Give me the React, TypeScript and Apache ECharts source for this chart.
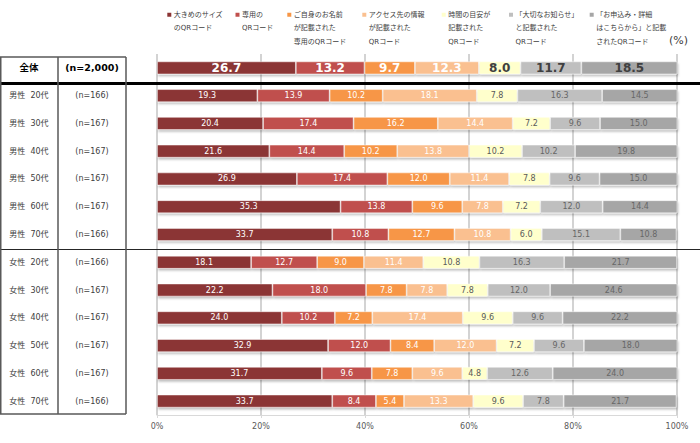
import React, { useEffect, useRef } from 'react';
import * as echarts from 'echarts';

const FONT = "'DejaVu Sans', 'Noto Sans CJK JP', sans-serif";

const categories = [
  '全体',
  '男性  20代', '男性  30代', '男性  40代', '男性  50代', '男性  60代', '男性  70代',
  '女性  20代', '女性  30代', '女性  40代', '女性  50代', '女性  60代', '女性  70代',
];
const sampleSizes = [
  '(n=2,000)',
  '(n=166)', '(n=167)', '(n=167)', '(n=167)', '(n=167)', '(n=166)',
  '(n=166)', '(n=167)', '(n=167)', '(n=167)', '(n=167)', '(n=166)',
];

const seriesNames = [
  '大きめのサイズ\nのQRコード',
  '専用の\nQRコード',
  'ご自身のお名前\nが記載された\n専用のQRコード',
  'アクセス先の情報\nが記載された\nQRコード',
  '時間の目安が\n記載された\nQRコード',
  '「大切なお知らせ」\nと記載された\nQRコード',
  '「お申込み・詳細\nはこちらから」と記載\nされたQRコード',
];

const largeSize = [26.7, 19.3, 20.4, 21.6, 26.9, 35.3, 33.7, 18.1, 22.2, 24.0, 32.9, 31.7, 33.7];
const dedicated = [13.2, 13.9, 17.4, 14.4, 17.4, 13.8, 10.8, 12.7, 18.0, 10.2, 12.0, 9.6, 8.4];
const ownName = [9.7, 10.2, 16.2, 10.2, 12.0, 9.6, 12.7, 9.0, 7.8, 7.2, 8.4, 7.8, 5.4];
const accessInfo = [12.3, 18.1, 14.4, 13.8, 11.4, 7.8, 10.8, 11.4, 7.8, 17.4, 12.0, 9.6, 13.3];
const timeGuide = [8.0, 7.8, 7.2, 10.2, 7.8, 7.2, 6.0, 10.8, 7.8, 9.6, 7.2, 4.8, 9.6];
const importantNotice = [11.7, 16.3, 9.6, 10.2, 9.6, 12.0, 15.1, 16.3, 12.0, 9.6, 9.6, 12.6, 7.8];
const applyDetails = [18.5, 14.5, 15.0, 19.8, 15.0, 14.4, 10.8, 21.7, 24.6, 22.2, 18.0, 24.0, 21.7];

const seriesValues = [largeSize, dedicated, ownName, accessInfo, timeGuide, importantNotice, applyDetails];

const xTicks = [0, 20, 40, 60, 80, 100];

const colors = ['#8B3434', '#C0504D', '#F79646', '#FAC090', '#FFFFCC', '#BFBFBF', '#A6A6A6'];
const rowLabelColors = ['#FFFFFF', '#FFFFFF', '#FFFFFF', '#FFFFFF', '#595959', '#666666', '#666666'];
const totalLabelColors = ['#FFFFFF', '#FFFFFF', '#FFFFFF', '#FFFFFF', '#404040', '#404040', '#404040'];
const legendLeft = [161.3, 229.5, 281.3, 356.3, 435.7, 503, 583.7];

function buildOption() {
  const series = seriesValues.map((vals, si) => ({
    type: 'bar',
    name: seriesNames[si],
    stack: 'total',
    barWidth: 13,
    data: vals.map((v, i) =>
      i === 0
        ? {
            value: v,
            label: { fontSize: 12, fontWeight: 'bold', color: totalLabelColors[si] },
          }
        : v
    ),
    itemStyle: {
      color: colors[si],
      borderColor: 'rgba(255,255,255,0.6)',
      borderWidth: 0.8,
      shadowColor: 'rgba(0,0,0,0.25)',
      shadowBlur: 2,
      shadowOffsetX: 1,
      shadowOffsetY: 2,
    },
    label: {
      show: true,
      position: 'inside',
      fontFamily: FONT,
      fontSize: 8,
      color: rowLabelColors[si],
      formatter: (p: any) => Number(p.value).toFixed(1),
    },
  }));

  const legend = seriesNames.map((name, i) => ({
    data: [name],
    left: legendLeft[i],
    top: 8,
    padding: 0,
    itemWidth: 0,
    itemHeight: 0,
    icon: 'rect',
    selectedMode: false,
    formatter: (n: string) => {
      const lines = n.split('\n');
      return lines
        .map((l, li) => (li === 0 ? `{m| }{g| }{t|${l}}` : `{i| }{t|${l}}`))
        .join('\n');
    },
    textStyle: {
      fontFamily: FONT,
      fontSize: 7,
      lineHeight: 13.5,
      color: '#404040',
      rich: {
        m: { width: 4, height: 4, backgroundColor: colors[i], fontSize: 4, lineHeight: 13.5 },
        g: { width: 2.5, fontSize: 7, lineHeight: 13.5 },
        i: { width: 6.5, fontSize: 7, lineHeight: 13.5 },
        t: { fontSize: 7, lineHeight: 13.5, color: '#404040', fontFamily: FONT },
      },
    },
  }));

  const lineStyle = { stroke: '#595959', lineWidth: 1.5 };

  return {
    animation: false,
    backgroundColor: '#FFFFFF',
    textStyle: { fontFamily: FONT },
    grid: { left: 157, right: 23, top: 54, height: 361 },
    legend,
    xAxis: {
      type: 'value',
      min: xTicks[0],
      max: xTicks[xTicks.length - 1],
      interval: 20,
      axisLabel: { formatter: '{value}%', color: '#595959', fontSize: 8, margin: 7, fontFamily: FONT },
      splitLine: { show: true, lineStyle: { color: '#C4C4C4', width: 1.5 } },
      axisLine: { show: true, lineStyle: { color: '#D9D9D9', width: 1 } },
      axisTick: { show: true, length: 3, lineStyle: { color: '#D9D9D9' } },
    },
    yAxis: {
      type: 'category',
      data: categories,
      inverse: true,
      axisLine: { show: false },
      axisTick: { show: false },
      splitLine: { show: false },
      axisLabel: {
        interval: 0,
        align: 'left',
        margin: 157,
        formatter: (v: string, idx: number) =>
          idx === 0 ? `{ta|${v}}{tb|${sampleSizes[idx]}}` : `{a|${v}}{b|${sampleSizes[idx]}}`,
        rich: {
          a: { width: 58, align: 'center', fontSize: 8, color: '#404040', fontFamily: FONT },
          b: { width: 68, align: 'center', fontSize: 8, color: '#404040', fontFamily: FONT },
          ta: { width: 58, align: 'center', fontSize: 9.5, fontWeight: 'bold', color: '#000000', fontFamily: FONT },
          tb: { width: 68, align: 'center', fontSize: 9.5, fontWeight: 'bold', color: '#000000', fontFamily: FONT },
        },
      },
    },
    graphic: [
      { type: 'line', z: 100, shape: { x1: 0, y1: 83.5, x2: 700, y2: 83.5 }, style: { stroke: '#000000', lineWidth: 3 } },
      { type: 'line', z: 100, shape: { x1: 0, y1: 249.5, x2: 700, y2: 249.5 }, style: { stroke: '#262626', lineWidth: 1 } },
      { type: 'line', z: 100, shape: { x1: 0.75, y1: 57, x2: 0.75, y2: 414 }, style: lineStyle },
      { type: 'line', z: 100, shape: { x1: 58, y1: 57, x2: 58, y2: 414 }, style: lineStyle },
      { type: 'line', z: 100, shape: { x1: 126, y1: 57, x2: 126, y2: 414 }, style: lineStyle },
      { type: 'line', z: 100, shape: { x1: 0, y1: 57, x2: 126, y2: 57 }, style: lineStyle },
      { type: 'line', z: 100, shape: { x1: 0, y1: 414, x2: 126, y2: 414 }, style: lineStyle },
      {
        type: 'text',
        z: 100,
        x: 669,
        y: 40,
        style: { text: '(%)', fontSize: 11, fill: '#404040', fontFamily: FONT, verticalAlign: 'middle' },
      },
    ],
    series,
  };
}

export default function App() {
  const ref = useRef<HTMLDivElement>(null);
  useEffect(() => {
    if (!ref.current) return;
    const chart = echarts.init(ref.current, null, { renderer: 'svg' });
    chart.setOption(buildOption() as any);
    return () => chart.dispose();
  }, []);
  return (
    <div
      ref={ref}
      style={{ position: 'fixed', left: 0, top: 0, width: 700, height: 443, background: '#fff' }}
    />
  );
}
